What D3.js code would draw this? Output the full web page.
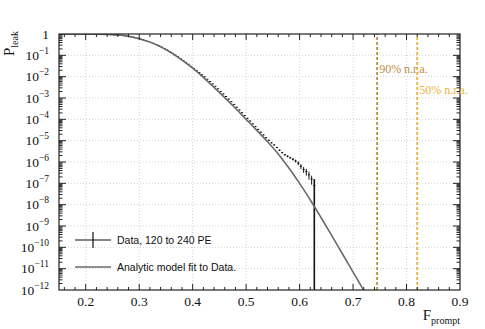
<!DOCTYPE html>
<html>
<head>
<meta charset="utf-8">
<script src="https://cdn.jsdelivr.net/npm/d3@7"></script>
<style>
  body { margin: 0; background: #fff; }
  svg { display: block; }
  svg text { font-family: "Liberation Serif", "DejaVu Serif", "Times New Roman", serif; }
  svg .legend text { font-family: "Liberation Sans", Arial, sans-serif; }
</style>
</head>
<body>
<div id="chart"></div>
<script>
// analytic model curve, P_leak vs F_prompt (log10 of P)
const modelF = [0.15, 0.20, 0.22, 0.24, 0.26, 0.28, 0.30, 0.32, 0.34, 0.36, 0.38, 0.40, 0.42, 0.44, 0.46, 0.48, 0.50, 0.52, 0.54, 0.56, 0.58, 0.60, 0.62, 0.64, 0.66, 0.68, 0.70, 0.72, 0.74];
const modelLogP = [0, -0.003, -0.008, -0.02, -0.05, -0.11, -0.22, -0.38, -0.6, -0.88, -1.22, -1.6, -2.03, -2.5, -2.98, -3.48, -4.0, -4.52, -5.05, -5.62, -6.28, -7.0, -7.78, -8.6, -9.44, -10.3, -11.16, -12.02, -12.9];

// data, 120 to 240 PE: bin centres (0.005 wide), log10 P and relative error
const dataF = [0.1525, 0.1575, 0.1625, 0.1675, 0.1725, 0.1775, 0.1825, 0.1875, 0.1925, 0.1975,
  0.2025, 0.2075, 0.2125, 0.2175, 0.2225, 0.2275, 0.2325, 0.2375, 0.2425, 0.2475,
  0.2525, 0.2575, 0.2625, 0.2675, 0.2725, 0.2775, 0.2825, 0.2875, 0.2925, 0.2975,
  0.3025, 0.3075, 0.3125, 0.3175, 0.3225, 0.3275, 0.3325, 0.3375, 0.3425, 0.3475,
  0.3525, 0.3575, 0.3625, 0.3675, 0.3725, 0.3775, 0.3825, 0.3875, 0.3925, 0.3975,
  0.4025, 0.4075, 0.4125, 0.4175, 0.4225, 0.4275, 0.4325, 0.4375, 0.4425, 0.4475,
  0.4525, 0.4575, 0.4625, 0.4675, 0.4725, 0.4775, 0.4825, 0.4875, 0.4925, 0.4975,
  0.5025, 0.5075, 0.5125, 0.5175, 0.5225, 0.5275, 0.5325, 0.5375, 0.5425, 0.5475,
  0.5525, 0.5575, 0.5625, 0.5675, 0.5725, 0.5775, 0.5825, 0.5875, 0.5925, 0.5975,
  0.6025, 0.6075, 0.6125, 0.6175, 0.6225, 0.6275];
const dataLogP = [0, 0, 0, 0, 0, 0, 0, -0.001, -0.002, -0.003,
  -0.004, -0.005, -0.006, -0.008, -0.010, -0.012, -0.015, -0.019, -0.024, -0.030,
  -0.037, -0.046, -0.057, -0.07, -0.085, -0.10, -0.12, -0.145, -0.17, -0.20,
  -0.235, -0.27, -0.31, -0.355, -0.40, -0.45, -0.50, -0.56, -0.62, -0.68,
  -0.75, -0.83, -0.91, -0.99, -1.07, -1.15, -1.24, -1.33, -1.42, -1.52,
  -1.61, -1.71, -1.81, -1.91, -2.01, -2.12, -2.23, -2.34, -2.45, -2.57,
  -2.69, -2.81, -2.93, -3.05, -3.17, -3.30, -3.43, -3.56, -3.69, -3.82,
  -3.95, -4.08, -4.21, -4.34, -4.47, -4.60, -4.73, -4.86, -4.98, -5.10,
  -5.20, -5.32, -5.45, -5.56, -5.66, -5.73, -5.80, -5.87, -5.95, -6.05,
  -6.20, -6.35, -6.45, -6.60, -6.80, -7.10];
const dataRelErr = [0, 0, 0, 0, 0, 0, 0, 0, 0, 0,
  0, 0, 0, 0, 0, 0, 0, 0, 0, 0,
  0, 0, 0, 0, 0, 0, 0, 0, 0, 0,
  0, 0, 0, 0, 0, 0, 0, 0, 0, 0,
  0.01, 0.01, 0.01, 0.01, 0.01, 0.01, 0.01, 0.01, 0.01, 0.01,
  0.02, 0.02, 0.02, 0.02, 0.02, 0.02, 0.02, 0.02, 0.02, 0.02,
  0.03, 0.03, 0.03, 0.03, 0.03, 0.03, 0.03, 0.03, 0.04, 0.04,
  0.04, 0.04, 0.04, 0.05, 0.05, 0.05, 0.05, 0.06, 0.06, 0.06,
  0.07, 0.07, 0.08, 0.08, 0.09, 0.1, 0.1, 0.12, 0.15, 0.2,
  0.25, 0.3, 0.35, 0.4, 0.45, 1.0];
const binWidth = 0.005;

// reference lines (noise rejection acceptance)
const refLabels = ["90% n.r.a.", "50% n.r.a."];
const refF = [0.745, 0.82];
const refColors = ["#b8903f", "#e9b43a"];

const xTicks = [0.2, 0.3, 0.4, 0.5, 0.6, 0.7, 0.8, 0.9];
const yExponents = [0, -1, -2, -3, -4, -5, -6, -7, -8, -9, -10, -11, -12];

const W = 485, H = 329;
const margin = { top: 34, right: 25, bottom: 39, left: 59 };

const svg = d3.select("#chart").append("svg")
  .attr("width", W).attr("height", H);

const x = d3.scaleLinear().domain([0.15, 0.9]).range([margin.left, W - margin.right]);
const y = d3.scaleLog().domain([1e-12, 1]).range([H - margin.bottom, margin.top]);
const x0 = x.range()[0], x1 = x.range()[1], y0 = y.range()[0], y1 = y.range()[1];

svg.append("defs").append("clipPath").attr("id", "plotclip")
  .append("rect").attr("x", x0).attr("y", y1).attr("width", x1 - x0).attr("height", y0 - y1);

// grid
const grid = svg.append("g").attr("stroke", "#c8c8c8").attr("stroke-width", 0.8).attr("stroke-dasharray", "1,2");
grid.selectAll("line.v").data(xTicks.filter(d => d < 0.9)).join("line")
  .attr("x1", d => x(d)).attr("x2", d => x(d)).attr("y1", y0).attr("y2", y1);
grid.selectAll("line.h").data(yExponents.slice(1, -1)).join("line")
  .attr("x1", x0).attr("x2", x1).attr("y1", d => y(Math.pow(10, d))).attr("y2", d => y(Math.pow(10, d)));

const plot = svg.append("g").attr("clip-path", "url(#plotclip)");

// reference lines
refF.forEach((f, i) => {
  plot.append("line")
    .attr("x1", x(f)).attr("x2", x(f)).attr("y1", y0).attr("y2", y1)
    .attr("stroke", refColors[i]).attr("stroke-width", 1.8).attr("stroke-dasharray", "3,2");
});

// data points with error bars
const data = dataF.map((f, i) => ({ f: f, p: Math.pow(10, dataLogP[i]), r: dataRelErr[i] }));
const pts = plot.append("g").attr("stroke", "#111").attr("stroke-width", 1);
pts.selectAll("line.h").data(data).join("line")
  .attr("x1", d => x(d.f - binWidth / 2) + 0.3).attr("x2", d => x(d.f + binWidth / 2) - 0.3)
  .attr("y1", d => y(d.p)).attr("y2", d => y(d.p));
pts.selectAll("line.v").data(data.filter(d => d.r > 0)).join("line")
  .attr("x1", d => x(d.f)).attr("x2", d => x(d.f))
  .attr("y1", d => y(d.p * (1 + d.r)))
  .attr("y2", d => d.r >= 1 ? y0 : y(d.p * (1 - d.r)))
  .attr("stroke-width", d => d.r >= 1 ? 1.6 : 1);

// model curve
const model = modelF.map((f, i) => ({ f: f, p: Math.pow(10, modelLogP[i]) }));
plot.append("path").datum(model)
  .attr("fill", "none").attr("stroke", "#6a6a6a").attr("stroke-width", 1.6)
  .attr("d", d3.line().x(d => x(d.f)).y(d => y(d.p)).curve(d3.curveMonotoneX));

// frame
svg.append("rect").attr("x", x0).attr("y", y1).attr("width", x1 - x0).attr("height", y0 - y1)
  .attr("fill", "none").attr("stroke", "#222").attr("stroke-width", 1.2);

// ticks (inside), major + minor
const ticks = svg.append("g").attr("stroke", "#222").attr("stroke-width", 1);
const xMinor = d3.range(0.16, 0.9001, 0.02).filter(v => Math.abs(v * 10 - Math.round(v * 10)) > 1e-6);
[[xTicks.slice(0, -1), 6], [xMinor, 3]].forEach(([vals, len]) => {
  ticks.selectAll(null).data(vals).join("line")
    .attr("x1", d => x(d)).attr("x2", d => x(d)).attr("y1", y0).attr("y2", y0 - len);
  ticks.selectAll(null).data(vals).join("line")
    .attr("x1", d => x(d)).attr("x2", d => x(d)).attr("y1", y1).attr("y2", y1 + len);
});
const yMinor = [];
yExponents.slice(1).forEach(e => d3.range(2, 10).forEach(m => yMinor.push(m * Math.pow(10, e))));
const yMajor = yExponents.slice(1, -1).map(e => Math.pow(10, e));
[[yMajor, 7], [yMinor, 3.5]].forEach(([vals, len]) => {
  ticks.selectAll(null).data(vals).join("line")
    .attr("x1", x0).attr("x2", x0 + len).attr("y1", d => y(d)).attr("y2", d => y(d));
  ticks.selectAll(null).data(vals).join("line")
    .attr("x1", x1).attr("x2", x1 - len).attr("y1", d => y(d)).attr("y2", d => y(d));
});

// x tick labels
svg.append("g").selectAll("text").data(xTicks).join("text")
  .attr("x", d => x(d)).attr("y", y0 + 16)
  .attr("text-anchor", "middle").attr("font-size", 13.5).attr("fill", "#111")
  .text(d => d3.format(".1f")(d));

// y tick labels
const yl = svg.append("g").selectAll("text").data(yExponents).join("text")
  .attr("x", x0 - 10).attr("y", d => y(Math.pow(10, d)) + 4.5)
  .attr("text-anchor", "end").attr("font-size", 13.5).attr("fill", "#111");
yl.each(function (e) {
  const t = d3.select(this);
  if (e === 0) { t.text("1"); return; }
  t.append("tspan").text("10");
  t.append("tspan").attr("font-size", 9.5).attr("dy", -6).text("\u2212" + Math.abs(e));
});

// axis titles
const xt = svg.append("text").attr("x", x1).attr("y", 320)
  .attr("text-anchor", "end").attr("font-size", 15).attr("fill", "#111");
xt.append("tspan").text("F");
xt.append("tspan").attr("font-size", 10).attr("dy", 4).text("prompt");

const ytl = svg.append("text").attr("transform", "translate(14,31) rotate(-90)")
  .attr("text-anchor", "end").attr("font-size", 15).attr("fill", "#111");
ytl.append("tspan").text("P");
ytl.append("tspan").attr("font-size", 10).attr("dy", 4).text("leak");

// reference labels
refF.forEach((f, i) => {
  svg.append("text").attr("x", x(f) + 2).attr("y", [73, 94][i])
    .attr("font-size", 12).attr("fill", refColors[i]).text(refLabels[i]);
});

// legend
const lg = svg.append("g").attr("class", "legend").attr("font-size", 10.5).attr("fill", "#111");
lg.append("line").attr("x1", 75).attr("x2", 111).attr("y1", 240).attr("y2", 240).attr("stroke", "#111").attr("stroke-width", 1.2);
lg.append("line").attr("x1", 93).attr("x2", 93).attr("y1", 232).attr("y2", 248).attr("stroke", "#111").attr("stroke-width", 1.2);
lg.append("text").attr("x", 117).attr("y", 244).text("Data, 120 to 240 PE");
lg.append("line").attr("x1", 75).attr("x2", 111).attr("y1", 267).attr("y2", 267).attr("stroke", "#6a6a6a").attr("stroke-width", 1.6);
lg.append("text").attr("x", 117).attr("y", 271).text("Analytic model fit to Data.");
</script>
</body>
</html>
